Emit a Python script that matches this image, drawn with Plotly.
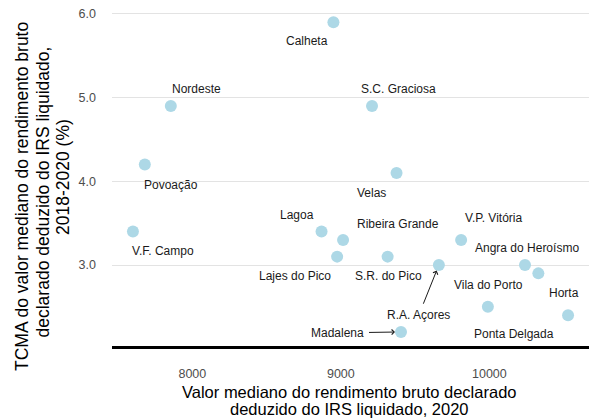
import plotly.graph_objects as go

# Municípios dos Açores (e total regional)
names = [
    "Calheta", "Nordeste", "S.C. Graciosa", "Povoação", "Velas",
    "V.F. Campo", "Lagoa", "Ribeira Grande", "V.P. Vitória",
    "Lajes do Pico", "S.R. do Pico", "R.A. Açores", "Angra do Heroísmo",
    "Vila do Porto", "Ponta Delgada", "Horta", "Madalena",
]
# Valor mediano do rendimento bruto declarado deduzido do IRS liquidado, 2020 (€)
rendimento_2020 = [
    8950, 7855, 9210, 7680, 9375,
    7600, 8870, 9015, 9810,
    8975, 9315, 9660, 10240,
    10330, 9990, 10530, 9405,
]
# TCMA 2018-2020 (%)
tcma = [
    5.9, 4.9, 4.9, 4.2, 4.1,
    3.4, 3.4, 3.3, 3.3,
    3.1, 3.1, 3.0, 3.0,
    2.9, 2.5, 2.4, 2.2,
]

x_ticks = [8000, 9000, 10000]
y_ticks = [3.0, 4.0, 5.0, 6.0]

# label offsets from each point, in pixels (dx right, dy down)
label_offsets = {
    "Calheta": (-26, 19), "Nordeste": (26, -17), "S.C. Graciosa": (26, -17),
    "Povoação": (26, 20), "Velas": (-25, 20), "V.F. Campo": (30, 19),
    "Lagoa": (-25, -17), "Ribeira Grande": (55, -16), "V.P. Vitória": (32, -22),
    "Lajes do Pico": (-42, 19), "S.R. do Pico": (1, 19),
    "Angra do Heroísmo": (2, -17), "Vila do Porto": (-50, 12),
    "Ponta Delgada": (26, 27), "Horta": (-4, -22),
}
# labels drawn with an arrow: (dx, dy) of the text from the point
arrow_labels = {"R.A. Açores": (-20, 50), "Madalena": (-63, 1)}

FONT = "Liberation Sans, Arial, sans-serif"
W, H = 589, 419
M_L, M_R, M_T, M_B = 112, 0, 0, 73
PW, PH = W - M_L - M_R, H - M_T - M_B


def px_to_paper_x(px):
    return (px - M_L) / PW


def px_to_paper_y(py):
    return (H - M_B - py) / PH


fig = go.Figure()
fig.add_trace(go.Scatter(
    x=rendimento_2020, y=tcma, mode="markers",
    marker=dict(size=12, color="#ADD8E6", line=dict(width=0)),
    hoverinfo="skip", showlegend=False,
))

annotations = []
for n, xv, yv in zip(names, rendimento_2020, tcma):
    if n in label_offsets:
        dx, dy = label_offsets[n]
        annotations.append(dict(
            x=xv, y=yv, xref="x", yref="y", text=n, showarrow=False,
            xanchor="center", yanchor="middle", xshift=dx, yshift=-dy,
            font=dict(family=FONT, size=12, color="#1A1A1A"),
        ))
    elif n in arrow_labels:
        dx, dy = arrow_labels[n]
        annotations.append(dict(
            x=xv, y=yv, xref="x", yref="y", text=n, showarrow=True,
            ax=dx, ay=dy, axref="pixel", ayref="pixel",
            arrowhead=4, arrowsize=1, arrowwidth=1, arrowcolor="#1A1A1A",
            standoff=6, startstandoff=3,
            font=dict(family=FONT, size=12, color="#1A1A1A"),
        ))

# x-axis title (two lines)
for txt, py in [("Valor mediano do rendimento bruto declarado", 392),
                ("deduzido do IRS liquidado, 2020", 408.5)]:
    annotations.append(dict(
        x=px_to_paper_x(349), y=px_to_paper_y(py), xref="paper", yref="paper",
        text=txt, showarrow=False, xanchor="center", yanchor="middle",
        font=dict(family=FONT, size=16.5, color="#000000"),
    ))

# y-axis title (three rotated lines)
for txt, px, py in [("TCMA do valor mediano do rendimento bruto", 22, 197),
                    ("declarado deduzido do IRS liquidado,", 42.5, 192),
                    ("2018-2020 (%)", 63, 177)]:
    annotations.append(dict(
        x=px_to_paper_x(px), y=px_to_paper_y(py), xref="paper", yref="paper",
        text=txt, showarrow=False, xanchor="center", yanchor="middle",
        textangle=-90,
        font=dict(family=FONT, size=17.5, color="#000000"),
    ))

fig.update_layout(
    width=W, height=H,
    margin=dict(l=M_L, r=M_R, t=M_T, b=M_B, pad=0),
    paper_bgcolor="white", plot_bgcolor="white",
    annotations=annotations,
    xaxis=dict(
        range=[7459, 10671], tickvals=x_ticks,
        ticktext=[str(v) for v in x_ticks],
        showgrid=False, zeroline=False, showline=True,
        linecolor="black", linewidth=2.5, ticks="",
        ticklabelstandoff=14,
        tickfont=dict(family=FONT, size=12.5, color="#4D4D4D"),
    ),
    yaxis=dict(
        range=[2.032, 6.167], tickvals=y_ticks,
        ticktext=[f"{v:.1f}" for v in y_ticks],
        showgrid=True, gridcolor="#E3E3E3", gridwidth=1.2,
        zeroline=False, showline=False, ticks="",
        ticklabelstandoff=15,
        tickfont=dict(family=FONT, size=12.5, color="#4D4D4D"),
    ),
)

fig.write_html("out.html")
